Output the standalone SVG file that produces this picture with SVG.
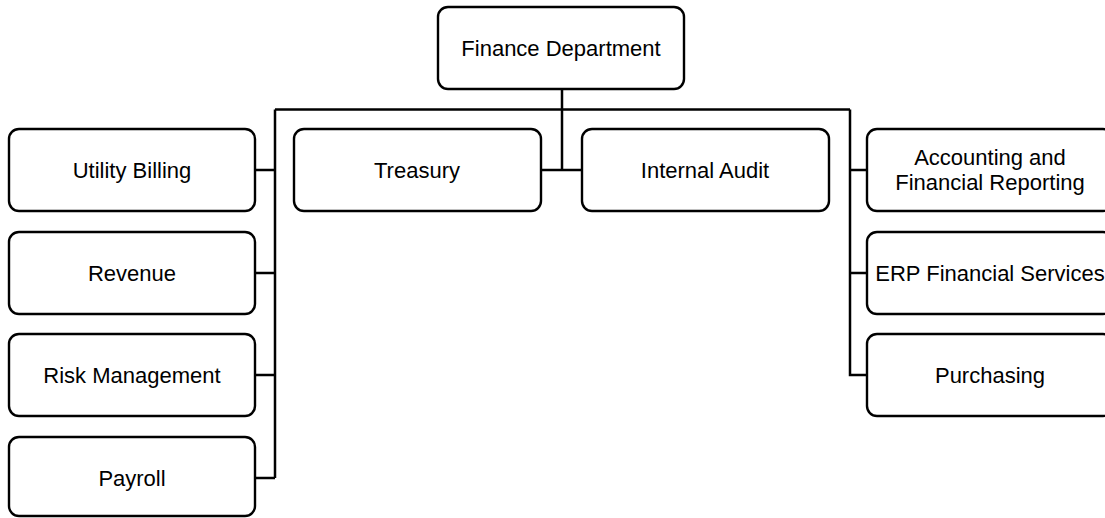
<svg xmlns="http://www.w3.org/2000/svg" width="1105" height="518" viewBox="0 0 1105 518">
<style>
.box{fill:#fff;stroke:#000;stroke-width:2.4}
.t{font-family:"Liberation Sans",Arial,sans-serif;font-size:22px;fill:#000;text-anchor:middle}
.c{fill:none;stroke:#000;stroke-width:2.5}
</style>
<rect width="1105" height="518" fill="#fff"/>
<g id="connectors">
<path class="c" d="M562 89V170M541 170H582"/>
<path class="c" d="M275 109.5H850"/>
<path class="c" d="M275 109.5V478M255 170H275M255 273H275M255 375H275M255 478H275"/>
<path class="c" d="M850 109.5V375H867M850 170H867M850 273H867"/>
</g>
<g id="finance"><rect class="box" x="438" y="7" width="246" height="82" rx="10"/><text class="t" x="561" y="56">Finance Department</text></g>
<g id="utility"><rect class="box" x="9" y="129" width="246" height="82" rx="10"/><text class="t" x="132" y="178">Utility Billing</text></g>
<g id="revenue"><rect class="box" x="9" y="232" width="246" height="82" rx="10"/><text class="t" x="132" y="281">Revenue</text></g>
<g id="risk"><rect class="box" x="9" y="334" width="246" height="82" rx="10"/><text class="t" x="132" y="383">Risk Management</text></g>
<g id="payroll"><rect class="box" x="9" y="437" width="246" height="79" rx="10"/><text class="t" x="132" y="486">Payroll</text></g>
<g id="treasury"><rect class="box" x="294" y="129" width="247" height="82" rx="10"/><text class="t" x="417" y="178">Treasury</text></g>
<g id="audit"><rect class="box" x="582" y="129" width="247" height="82" rx="10"/><text class="t" x="705" y="178">Internal Audit</text></g>
<g id="accounting"><rect class="box" x="867" y="129" width="246" height="82" rx="10"/><text class="t" x="990" y="165">Accounting and</text><text class="t" x="990" y="190">Financial Reporting</text></g>
<g id="erp"><rect class="box" x="867" y="232" width="246" height="82" rx="10"/><text class="t" x="990" y="281">ERP Financial Services</text></g>
<g id="purchasing"><rect class="box" x="867" y="334" width="246" height="82" rx="10"/><text class="t" x="990" y="383">Purchasing</text></g>
</svg>
